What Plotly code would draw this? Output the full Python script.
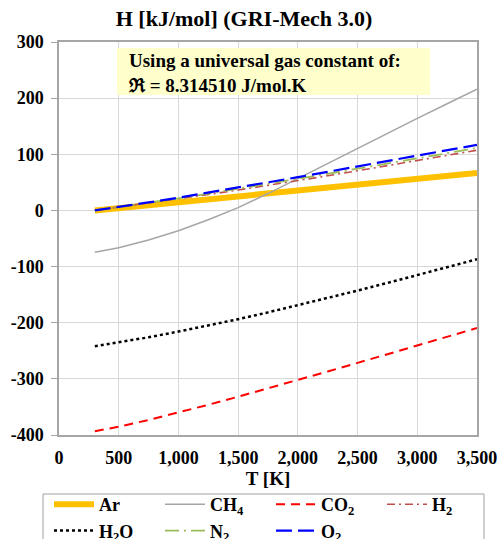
import plotly.graph_objects as go

T = [300, 500, 750, 1000, 1250, 1500, 1750, 2000, 2250, 2500, 2750, 3000, 3250, 3500]
Ar = [0.0, 4.2, 9.4, 14.6, 19.8, 25.0, 30.2, 35.4, 40.6, 45.8, 51.0, 56.2, 61.4, 66.6]
CH4 = [-74.6, -66.5, -52.5, -36.0, -16.5, 5.0, 30.0, 57.0, 84.0, 111.0, 137.5, 164.0, 190.0, 216.0]
CO2 = [-393.4, -385.2, -373.2, -360.1, -346.2, -331.8, -317.1, -302.1, -286.9, -271.6, -256.1, -240.6, -225.1, -209.5]
H2 = [0.1, 5.9, 13.2, 20.7, 28.3, 36.3, 44.5, 53.0, 61.7, 70.6, 79.6, 88.7, 98.0, 107.3]
H2O = [-241.8, -234.9, -226.0, -215.8, -205.0, -193.7, -181.6, -169.0, -156.1, -142.8, -129.2, -115.3, -101.2, -87.0]
N2 = [0.1, 5.9, 13.5, 21.5, 29.8, 38.4, 47.2, 56.1, 65.2, 74.3, 83.5, 92.7, 102.0, 111.2]
O2 = [0.1, 6.1, 14.2, 22.7, 31.6, 40.6, 49.8, 59.2, 68.8, 78.4, 88.2, 98.0, 107.5, 116.8]

x_ticks = [0, 500, 1000, 1500, 2000, 2500, 3000, 3500]
y_ticks = [-400, -300, -200, -100, 0, 100, 200, 300]

FONT = "Liberation Serif"

series = [
    ("Ar", Ar, dict(color="#FFC000", width=6, dash="solid")),
    ("CH<sub>4</sub>", CH4, dict(color="#A6A6A6", width=1.6, dash="solid")),
    ("CO<sub>2</sub>", CO2, dict(color="#FF0000", width=2, dash="9px,6px")),
    ("H<sub>2</sub>", H2, dict(color="#C0504D", width=1.6, dash="8px,4px,2px,4px")),
    ("H<sub>2</sub>O", H2O, dict(color="#000000", width=2.5, dash="dot")),
    ("N<sub>2</sub>", N2, dict(color="#9BBB59", width=1.8, dash="14px,5px,2px,5px")),
    ("O<sub>2</sub>", O2, dict(color="#0000FF", width=2.2, dash="16px,6px")),
]

fig = go.Figure()
for name, vals, line in series:
    fig.add_trace(go.Scatter(x=T, y=vals, mode="lines", name=f"<b>{name}</b>", line=line))

fig.update_layout(
    width=498, height=539,
    margin=dict(l=59, r=21, t=42, b=104, autoexpand=False),
    paper_bgcolor="white", plot_bgcolor="white",
    font=dict(family=FONT, size=18, color="black"),
    title=dict(text="<b>H [kJ/mol] (GRI-Mech 3.0)</b>", x=0.49, xanchor="center",
               y=1 - 18 / 539, yanchor="middle", font=dict(family=FONT, size=22)),
    showlegend=True,
    legend=dict(orientation="h",
                x=(49 - 59) / 418, xanchor="left", y=(435 - 486) / 393, yanchor="top",
                bgcolor="rgba(0,0,0,0)", borderwidth=0, entrywidth=56,
                font=dict(family=FONT, size=18), itemwidth=40, tracegroupgap=0),
)

fig.update_xaxes(range=[0, 3500], tickvals=x_ticks,
                 ticktext=[f"<b>{v:,}</b>" for v in x_ticks],
                 showgrid=True, gridcolor="#D9D9D9", gridwidth=1,
                 showline=True, linecolor="#A6A6A6", linewidth=1.5, mirror=True,
                 zeroline=False, ticks="", ticklabelstandoff=6,
                 title=dict(text="<b>T [K]</b>", standoff=3, font=dict(size=19)))
fig.update_yaxes(range=[-400, 300], tickvals=y_ticks,
                 ticktext=[f"<b>{v}</b>" for v in y_ticks],
                 showgrid=True, gridcolor="#D9D9D9", gridwidth=1,
                 showline=True, linecolor="#A6A6A6", linewidth=1.5, mirror=True,
                 zeroline=False, ticks="outside", ticklen=6, tickcolor="#A6A6A6",
                 ticklabelstandoff=4)

# legend frame
fig.add_shape(type="rect", xref="paper", yref="paper",
              x0=(43 - 59) / 418, x1=(484 - 59) / 418,
              y0=(435 - 570) / 393, y1=(435 - 494) / 393,
              fillcolor="rgba(0,0,0,0)", line=dict(color="#A0A0A0", width=1), layer="above")

# note box
fig.add_shape(type="rect", xref="paper", yref="paper",
              x0=(117 - 59) / 418, x1=(430 - 59) / 418,
              y0=(435 - 95) / 393, y1=(435 - 48) / 393,
              fillcolor="#FFFFCC", line=dict(width=0), layer="above")
fig.add_annotation(xref="paper", yref="paper", x=(126 - 59) / 418, y=(435 - 48) / 393,
                   xanchor="left", yanchor="top", align="left", showarrow=False,
                   text="<b>Using a universal gas constant of:<br>\u211c = 8.314510 J/mol.K</b>",
                   font=dict(family=FONT, size=19))

fig.write_html("out.html")
